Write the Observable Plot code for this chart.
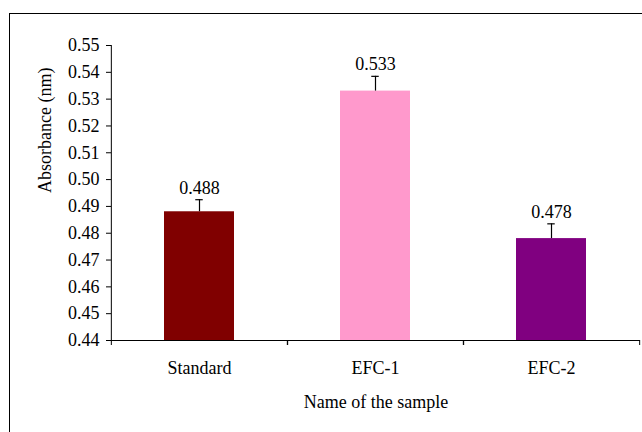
<!DOCTYPE html>
<html>
<head>
<meta charset="utf-8">
<script src="https://cdn.jsdelivr.net/npm/d3@7"></script>
<script src="https://cdn.jsdelivr.net/npm/@observablehq/plot@0.6"></script>
<style>
  html, body { margin: 0; padding: 0; background: #fff; overflow: hidden; width: 642px; height: 432px; }
  #wrap { position: relative; width: 642px; height: 432px; }
  #border { position: absolute; left: 9px; top: 13px; width: 700px; height: 500px; border: 1px solid #000; box-sizing: border-box; pointer-events: none; }
  #chart { position: absolute; left: 0; top: 0; }
  #chart svg text { font-family: "Liberation Serif", "Times New Roman", serif !important; font-variant: normal !important; }
</style>
</head>
<body>
<div id="wrap"><div id="chart"></div><div id="border"></div></div>
<script>
const categories = ["Standard", "EFC-1", "EFC-2"];
const values = [0.488, 0.533, 0.478];
const errors = [0.0045, 0.0055, 0.0055];
const colors = ["#800000", "#FF99CC", "#800080"];
const yTicks = [0.44, 0.45, 0.46, 0.47, 0.48, 0.49, 0.50, 0.51, 0.52, 0.53, 0.54, 0.55];
const yTitle = "Absorbance (nm)";
const xTitle = "Name of the sample";

const data = categories.map((c, i) => ({cat: c, value: values[i], err: errors[i], top: values[i] + errors[i], color: colors[i]}));

const W = 642, H = 432, mL = 111, mR = 2, mT = 45, mB = 92;
const yMin = yTicks[0], yMax = yTicks[yTicks.length - 1];
const padInner = 0.6, padOuter = 0.3;
const step = (W - mL - mR) / categories.length;
const bw = step * (1 - padInner);
const capHalf = 4;
const serif = "Liberation Serif";

const plot = Plot.plot({
  width: W, height: H,
  marginLeft: mL, marginRight: mR, marginTop: mT, marginBottom: mB,
  style: {fontFamily: serif, fontSize: "18px", color: "#000", background: "transparent"},
  x: {domain: categories, paddingInner: padInner, paddingOuter: padOuter, label: null},
  y: {domain: [yMin, yMax], label: null},
  color: {type: "identity"},
  marks: [
    Plot.barY(data, {x: "cat", y1: () => yMin, y2: "value", fill: "color"}),
    // error bars
    Plot.ruleX(data, {x: "cat", y1: "value", y2: "top", stroke: "#000", strokeWidth: 1.2}),
    Plot.tickY(data, {x: "cat", y: "top", stroke: "#000", strokeWidth: 1.2, insetLeft: bw / 2 - capHalf, insetRight: bw / 2 - capHalf}),
    // value labels
    Plot.text(data, {x: "cat", y: "top", text: d => d3.format(".3f")(d.value), dy: -6, lineAnchor: "bottom", fontSize: 18, fontFamily: serif, fill: "#000"}),
    // axis lines
    Plot.ruleY([yMin], {stroke: "#000", strokeWidth: 1}),
    Plot.ruleX([categories[0]], {x: d => d, y1: () => yMin, y2: () => yMax, dx: -step / 2, stroke: "#000", strokeWidth: 1}),
    // category boundary ticks
    Plot.ruleX(categories, {x: d => d, y1: () => yMin, y2: () => yMin, insetBottom: -5, dx: -step / 2, stroke: "#000"}),
    Plot.ruleX(categories, {x: d => d, y1: () => yMin, y2: () => yMin, insetBottom: -5, dx: step / 2, stroke: "#000"}),
    Plot.axisY({ticks: yTicks, tickFormat: d3.format(".2f"), tickSize: 5, tickPadding: 7, fontSize: 18, fontFamily: serif, label: null}),
    Plot.axisX({tickSize: 0, tickPadding: 21, fontSize: 18, fontFamily: serif, label: null}),
    Plot.text([yTitle], {frameAnchor: "left", dx: -66, rotate: -90, fontSize: 18, fontFamily: serif, fill: "#000"}),
    Plot.text([xTitle], {frameAnchor: "bottom", dy: 67, fontSize: 18, fontFamily: serif, fill: "#000"})
  ]
});
document.getElementById("chart").appendChild(plot);
</script>
</body>
</html>
